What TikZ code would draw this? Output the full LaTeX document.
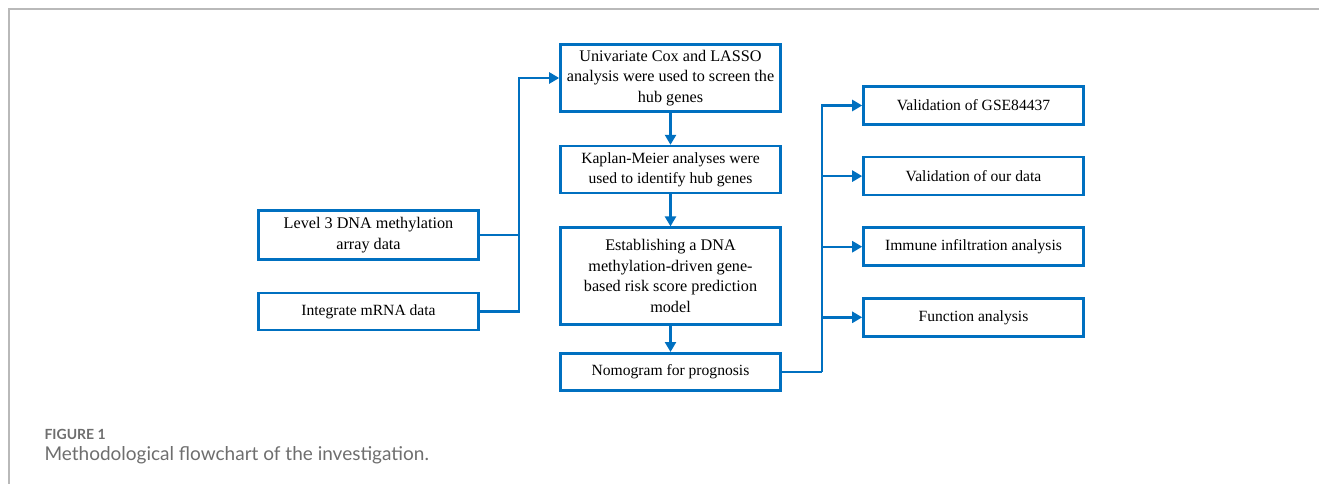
\documentclass[tikz,border=0pt]{standalone}
\usepackage{fontspec}
\setmainfont{Liberation Serif}
\newfontfamily\capfont{Lato}
\usetikzlibrary{arrows.meta, positioning}
\definecolor{flowblue}{RGB}{0,112,192}
\definecolor{framegray}{RGB}{185,185,185}
\definecolor{captiongray}{RGB}{110,110,110}

\begin{document}
\begin{tikzpicture}[
    x=1pt, y=1pt,
    node distance=32pt,
    block/.style={rectangle, draw=flowblue, line width=2.6pt, minimum width=220pt, minimum height=#1, align=center, inner sep=2pt, font=\fontsize{15.6}{19.5}\selectfont},
    block/.default=38pt,
    bigtext/.style={font=\fontsize{16.2}{20.5}\selectfont},
    arrow/.style={-{Triangle[length=10pt, width=11pt]}, draw=flowblue, line width=2.4pt},
    link/.style={draw=flowblue, line width=2.4pt},
    caption/.style={anchor=base west, text=captiongray}
]
\useasboundingbox (0,0) rectangle (1319,-484);

% Frame
\draw[framegray, line width=1.4pt] (9,-484) -- (9,-9) -- (1319,-9);

% Main pipeline
\node[block=67pt, bigtext] (univ) at (670.5,-78) {Univariate Cox and LASSO\\analysis were used to screen the\\hub genes};
\node[block=47pt, below=of univ] (kaplan) {Kaplan-Meier analyses were\\used to identify hub genes};
\node[block=97pt, bigtext, below=of kaplan] (model) {Establishing a DNA\\methylation-driven gene-\\based risk score prediction\\model};
\node[block=37pt, below=26pt of model] (nomo) {Nomogram for prognosis};

% Input data
\node[block=49pt, bigtext] (level) at (368.5,-235) {Level 3 DNA methylation\\array data};
\node[block=37pt, below=31pt of level] (mrna) {Integrate mRNA data};

% Validation and analyses
\node[block] (gse) at (973.5,-105.5) {Validation of GSE84437};
\node[block, below=30pt of gse] (own) {Validation of our data};
\node[block, below=30pt of own] (immune) {Immune infiltration analysis};
\node[block, below=30pt of immune] (func) {Function analysis};

% Bus lines
\coordinate (inbus) at ([xshift=39pt]level.east);
\coordinate (outbus) at ([xshift=40pt]nomo.east);

% Arrows from inputs
\draw[link] (level.east) -- (inbus);
\draw[link] (mrna.east) -| (inbus);
\draw[arrow] (inbus) |- (univ.west);

% Arrows through pipeline
\draw[arrow] (univ) -- (kaplan);
\draw[arrow] (kaplan) -- (model);
\draw[arrow] (model) -- (nomo);

% Arrows to outputs
\draw[link] (nomo.east) -- (outbus);
\foreach \out in {gse, own, immune, func}
    \draw[arrow] (outbus) |- (\out.west);

% Caption
\node[caption, font=\capfont\bfseries\fontsize{14}{16}\selectfont] (figlabel) at (41,-439) {FIGURE 1};
\node[caption, font=\capfont\fontsize{19}{22}\selectfont] (figtext) at (41,-460) {Methodological flowchart of the investigation.};

\end{tikzpicture}
\end{document}
